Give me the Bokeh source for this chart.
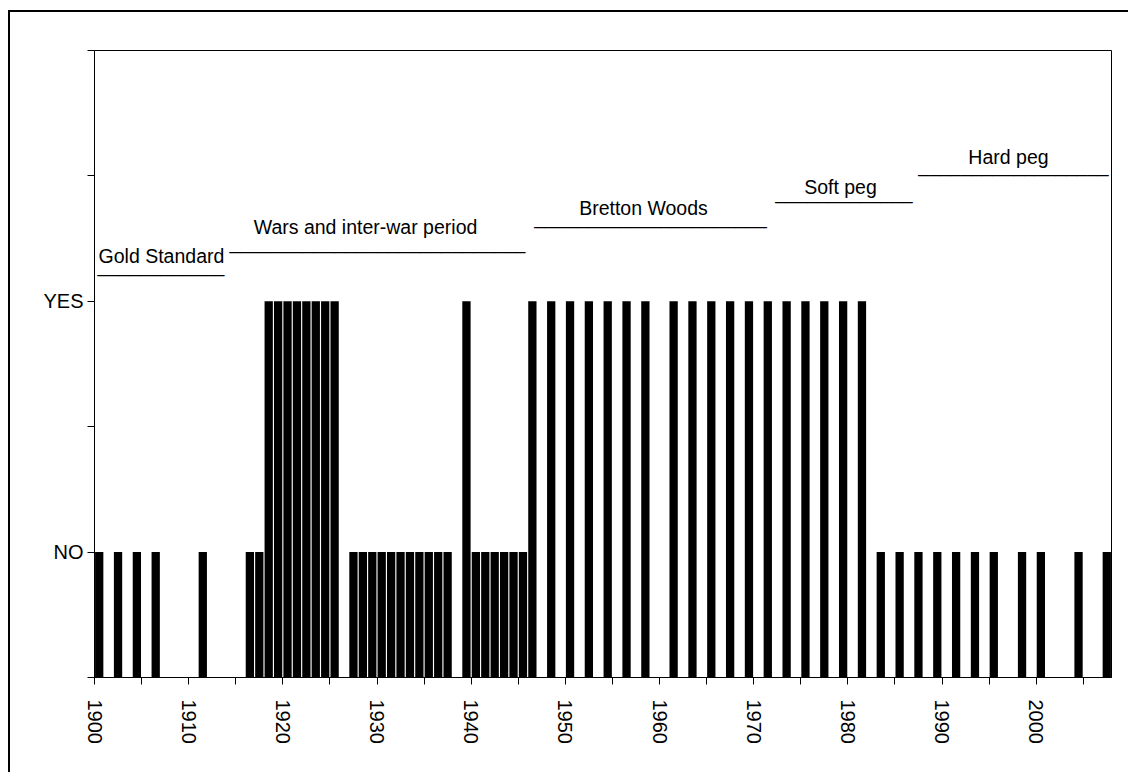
import math
from bokeh.plotting import figure
from bokeh.models import Range1d, FixedTicker, ColumnDataSource, Label, InlineStyleSheet
from bokeh.core.properties import value
from bokeh.embed import file_html
from bokeh.resources import INLINE

# ---------------- data ----------------
years = [1900, 1902, 1904, 1906, 1911, 1916, 1917,
         1918, 1919, 1920, 1921, 1922, 1923, 1924, 1925,
         1927, 1928, 1929, 1930, 1931, 1932, 1933, 1934, 1935, 1936, 1937,
         1939,
         1940, 1941, 1942, 1943, 1944, 1945,
         1946, 1948, 1950, 1952, 1954, 1956, 1958,
         1961, 1963, 1965, 1967, 1969, 1971, 1973, 1975, 1977, 1979, 1981,
         1983, 1985, 1987, 1989, 1991, 1993, 1995,
         1998, 2000, 2004, 2007]
answers = ["NO", "NO", "NO", "NO", "NO", "NO", "NO",
           "YES", "YES", "YES", "YES", "YES", "YES", "YES", "YES",
           "NO", "NO", "NO", "NO", "NO", "NO", "NO", "NO", "NO", "NO", "NO",
           "YES",
           "NO", "NO", "NO", "NO", "NO", "NO",
           "YES", "YES", "YES", "YES", "YES", "YES", "YES",
           "YES", "YES", "YES", "YES", "YES", "YES", "YES", "YES", "YES", "YES", "YES",
           "NO", "NO", "NO", "NO", "NO", "NO", "NO",
           "NO", "NO", "NO", "NO"]
answer_levels = {"NO": 1, "YES": 3}
x_label_years = [1900, 1910, 1920, 1930, 1940, 1950, 1960, 1970, 1980, 1990, 2000]
x_tick_years = [1900, 1905, 1910, 1915, 1920, 1925, 1930, 1935, 1940, 1945, 1950,
                1955, 1960, 1965, 1970, 1975, 1980, 1985, 1990, 1995, 2000, 2005]
y_ticks = [0, 1, 2, 3, 4, 5]
period_names = ["Gold Standard", "Wars and inter-war period", "Bretton Woods",
                "Soft peg", "Hard peg"]
title_text = "the industrial sector 1900-2007"

# ---------------- layout (positions of annotations) ----------------
period_text_x = [1907.11, 1928.78, 1958.30, 1979.22, 1997.06]
period_text_y = [3.365, 3.589, 3.748, 3.915, 4.147]
period_line_x = [1907.06, 1930.05, 1959.04, 1979.59, 1997.59]
period_line_y = [3.285, 3.469, 3.668, 3.868, 4.083]
period_line_len = [12, 28, 22, 13, 18]

FONT = "Liberation Sans"

p = figure(width=1128, height=772, output_backend="svg", toolbar_location=None,
           x_range=Range1d(1900, 2008), y_range=Range1d(0, 5),
           min_border_left=94, min_border_right=17, min_border_top=50,
           min_border_bottom=95, background_fill_color="white",
           border_fill_color="white", outline_line_color="black",
           outline_line_width=1)
p.grid.visible = False

src = ColumnDataSource(dict(x=[y + 0.5 for y in years],
                            top=[answer_levels[a] for a in answers],
                            year=years, answer=answers))
p.vbar(x="x", top="top", bottom=0, width=0.88, source=src,
       fill_color="black", line_color=None)

# x axis
xa = p.xaxis[0]
xa.ticker = FixedTicker(ticks=x_tick_years)
xa.major_label_overrides = {t: (str(t) if t in x_label_years else "") for t in x_tick_years}
xa.major_label_orientation = -math.pi / 2
xa.major_tick_out = 7
xa.major_tick_in = 0
xa.minor_tick_line_color = None
xa.major_label_standoff = 15
xa.major_label_text_font = FONT
xa.major_label_text_font_size = "20px"
xa.major_label_text_color = "black"
xa.axis_line_color = "black"
xa.major_tick_line_color = "black"

# y axis
ya = p.yaxis[0]
ya.ticker = FixedTicker(ticks=y_ticks)
level_names = {v: k for k, v in answer_levels.items()}
ya.major_label_overrides = {t: level_names.get(t, "") for t in y_ticks}
ya.major_tick_out = 7
ya.major_tick_in = 0
ya.minor_tick_line_color = None
ya.major_label_standoff = 4
ya.major_label_text_font = FONT
ya.major_label_text_font_size = "20px"
ya.major_label_text_color = "black"
ya.axis_line_color = "black"
ya.major_tick_line_color = "black"

# period annotations
p.text(x=period_text_x, y=period_text_y, text=period_names,
       text_font=value(FONT), text_font_size="19.5px", text_align="center",
       text_baseline="middle", text_color="black")
p.text(x=period_line_x, y=period_line_y, text=["_" * n for n in period_line_len],
       text_font=value(FONT), text_font_size="19px", text_align="center",
       text_baseline="alphabetic", text_color="black")

# cut-off caption of the source document (partly above the window, as in the reference)
p.add_layout(Label(x=1908.71, y=5.331, text=title_text, text_font="Liberation Serif",
                   text_font_size="30px", text_baseline="alphabetic",
                   text_color="black"))

# outer frame of the chart object: only its top and left edges are inside the window
p.stylesheets = [InlineStyleSheet(css=(
    ":host::before { content: ''; position: absolute; left: 8px; top: 10px; "
    "width: 1120px; height: 2px; background: #000; pointer-events: none; z-index: 100; }"
    ":host::after { content: ''; position: absolute; left: 8px; top: 10px; "
    "width: 2px; height: 762px; background: #000; pointer-events: none; z-index: 100; }"
))]

open("out.html", "w").write(file_html(p, INLINE))
